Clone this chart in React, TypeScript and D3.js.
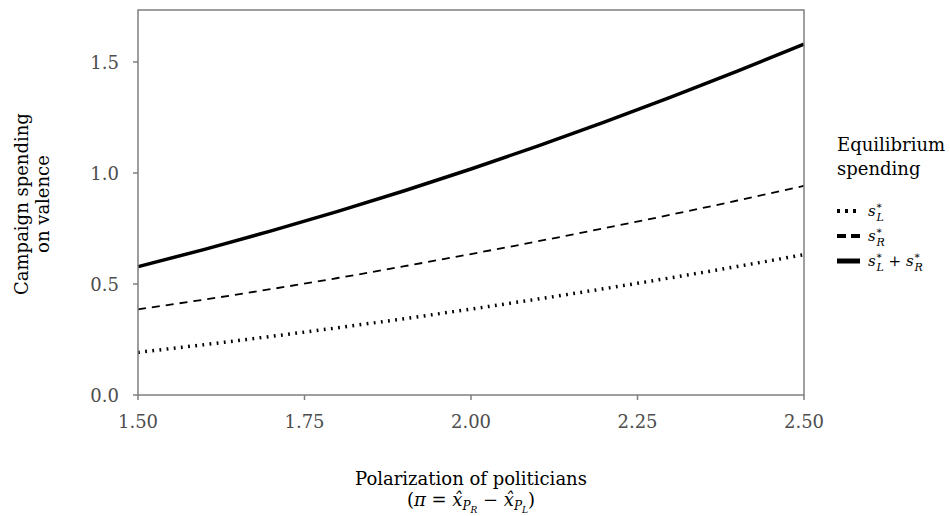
import React from "react";
import * as d3 from "d3";

// polarization values (x) and equilibrium spending
const polarization = [1.5, 1.6, 1.7, 1.8, 1.9, 2.0, 2.1, 2.2, 2.3, 2.4, 2.5];
const spendingL = [0.192, 0.227, 0.264, 0.303, 0.344, 0.387, 0.432, 0.479, 0.528, 0.579, 0.632];
const spendingR = [0.386, 0.43, 0.477, 0.527, 0.58, 0.635, 0.692, 0.751, 0.812, 0.876, 0.942];
const spendingTotal = [0.578, 0.656, 0.739, 0.827, 0.92, 1.018, 1.121, 1.229, 1.342, 1.459, 1.58];

const xTicks = [1.5, 1.75, 2.0, 2.25, 2.5];
const yTicks = [0, 0.5, 1.0, 1.5];

const SERIF = { fontFamily: '"DejaVu Serif", serif' };
const GREY = "#7f7f7f";
const TICKTEXT = "#4d4d4d";

export default function App() {
  const margin = { top: 10, left: 138 };
  const w = 666,
    h = 385;

  const x = d3.scaleLinear().domain([1.5, 2.5]).range([margin.left, margin.left + w]);
  const y = d3.scaleLinear().domain([0, 1.734]).range([margin.top + h, margin.top]);

  const line = d3
    .line<[number, number]>()
    .x((d) => x(d[0]))
    .y((d) => y(d[1]))
    .curve(d3.curveMonotoneX);

  const series = [
    { key: "L", values: spendingL, width: 3.5, dash: "1.8,5.4", keyWidth: 4, keyDash: "3,5" },
    { key: "R", values: spendingR, width: 1.8, dash: "8,6", keyWidth: 4, keyDash: "9,5" },
    { key: "LR", values: spendingTotal, width: 3.5, dash: null, keyWidth: 5, keyDash: null },
  ];

  const bottom = margin.top + h;

  // legend placement
  const legX = 837;
  const legRows = [211, 236, 261];

  const sym = (sub: string) => (
    <>
      <tspan fontStyle="italic">s</tspan>
      <tspan fontSize="10" dy="-7">∗</tspan>
      <tspan fontSize="11" fontStyle="italic" dx="-6" dy="12">{sub}</tspan>
      <tspan dy="-5"> </tspan>
    </>
  );

  return (
    <svg
      width={950}
      height={516}
      style={{ position: "absolute", left: 0, top: 0, display: "block", ...SERIF }}
    >
      <rect width={950} height={516} fill="white" />

      {/* series */}
      {series.map((s) => (
        <path
          key={s.key}
          d={line(polarization.map((p, i) => [p, s.values[i]] as [number, number])) || ""}
          fill="none"
          stroke="black"
          strokeWidth={s.width}
          strokeDasharray={s.dash || undefined}
        />
      ))}

      {/* panel border */}
      <rect
        x={margin.left}
        y={margin.top}
        width={w}
        height={h}
        fill="none"
        stroke={GREY}
        strokeWidth={1.5}
      />

      {/* x ticks */}
      {xTicks.map((t) => (
        <g key={"x" + t}>
          <line x1={x(t)} x2={x(t)} y1={bottom} y2={bottom + 5} stroke={GREY} strokeWidth={1.5} />
          <text x={x(t)} y={bottom + 33} textAnchor="middle" fontSize={18} fill={TICKTEXT}>
            {t.toFixed(2)}
          </text>
        </g>
      ))}

      {/* y ticks */}
      {yTicks.map((t) => (
        <g key={"y" + t}>
          <line x1={margin.left - 5} x2={margin.left} y1={y(t)} y2={y(t)} stroke={GREY} strokeWidth={1.5} />
          <text x={margin.left - 19} y={y(t) + 7} textAnchor="end" fontSize={18} fill={TICKTEXT}>
            {t.toFixed(1)}
          </text>
        </g>
      ))}

      {/* x title */}
      <text x={x(2)} y={485} textAnchor="middle" fontSize={18} fill="black">
        Polarization of politicians
      </text>
      <text x={x(2)} y={506} textAnchor="middle" fontSize={18} fill="black">
        (<tspan fontStyle="italic">π</tspan> = <tspan fontStyle="italic">x̂</tspan>
        <tspan fontSize="12" fontStyle="italic" dy="4">P</tspan>
        <tspan fontSize="9" fontStyle="italic" dy="3">R</tspan>
        <tspan dy="-7"> − </tspan>
        <tspan fontStyle="italic">x̂</tspan>
        <tspan fontSize="12" fontStyle="italic" dy="4">P</tspan>
        <tspan fontSize="9" fontStyle="italic" dy="3">L</tspan>
        <tspan dy="-7">)</tspan>
      </text>

      {/* y title */}
      <g transform={`translate(0, ${y(0.86)}) rotate(-90)`}>
        <text x={0} y={28} textAnchor="middle" fontSize={18} fill="black">
          Campaign spending
        </text>
        <text x={0} y={49} textAnchor="middle" fontSize={18} fill="black">
          on valence
        </text>
      </g>

      {/* legend */}
      <text x={legX} y={151} fontSize={18} fill="black">Equilibrium</text>
      <text x={legX} y={175} fontSize={18} fill="black">spending</text>
      {series.map((s, i) => (
        <line
          key={"k" + s.key}
          x1={legX}
          x2={legX + 23}
          y1={legRows[i]}
          y2={legRows[i]}
          stroke="black"
          strokeWidth={s.keyWidth}
          strokeDasharray={s.keyDash || undefined}
        />
      ))}
      <text x={legX + 31} y={legRows[0] + 5} fontSize={15} fill="black">{sym("L")}</text>
      <text x={legX + 31} y={legRows[1] + 5} fontSize={15} fill="black">{sym("R")}</text>
      <text x={legX + 31} y={legRows[2] + 5} fontSize={15} fill="black">
        {sym("L")}
        <tspan> + </tspan>
        {sym("R")}
      </text>
    </svg>
  );
}
